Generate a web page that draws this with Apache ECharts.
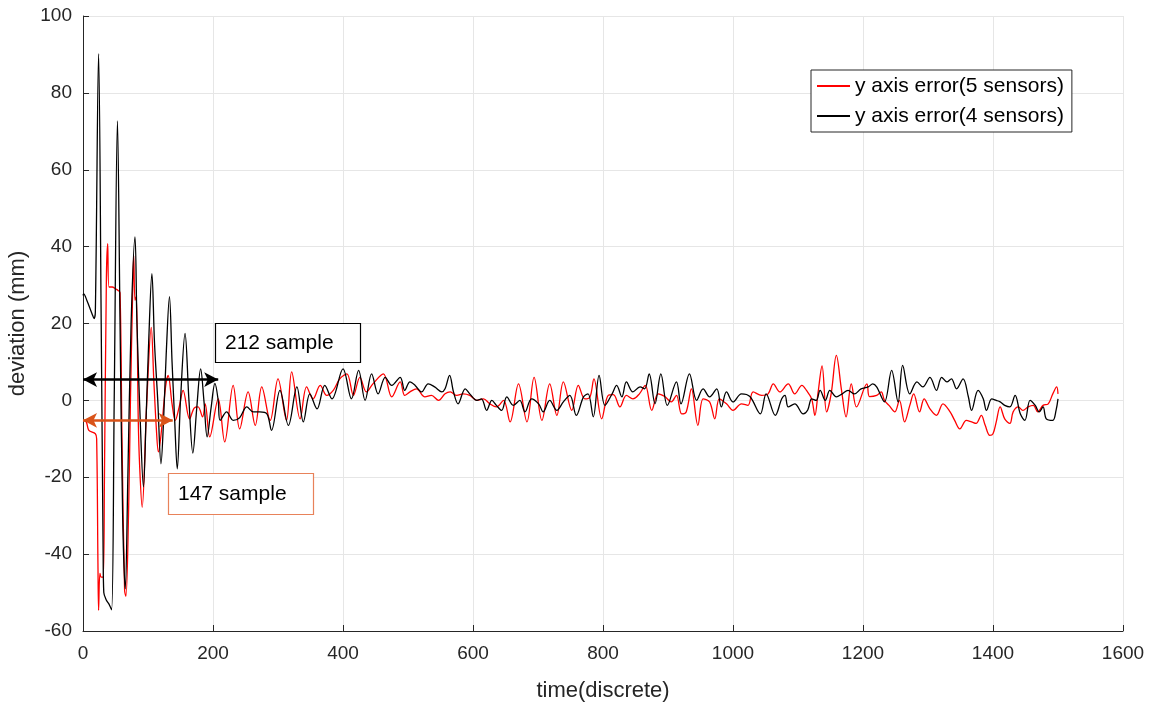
<!DOCTYPE html>
<html>
<head>
<meta charset="utf-8">
<title>y axis error</title>
<script src="https://cdn.jsdelivr.net/npm/echarts@6/dist/echarts.min.js"></script>
<style>
  html, body { margin: 0; padding: 0; background: #fff; }
  #chart { width: 1154px; height: 704px; }
</style>
</head>
<body>
<div id="chart"></div>
<script>
// values (sample index, deviation in mm)
const seriesNames = ['y axis error(5 sensors)', 'y axis error(4 sensors)'];

const redX = [0,5,9,19,21,23,24,26,28,31,
  33,36,38,40,45,50,54,57,60,64,
  66,70,73,76,78,80,82,85,87,91,
  98,105,109,113,116,120,127,131,137,142,
  148,154,164,171,177,184,188,195,208,218,
  231,241,254,265,275,288,300,313,321,334,
  344,354,365,375,385,395,406,416,426,436,
  446,462,475,488,495,503,513,526,536,547,
  557,565,575,585,595,606,616,626,636,647,
  657,670,683,694,706,718,729,739,752,762,
  772,780,786,798,808,816,826,836,846,856,
  865,875,885,895,905,913,921,928,936,946,
  954,964,972,979,990,1000,1013,1023,1031,1044,
  1054,1062,1072,1085,1095,1106,1113,1121,1126,1131,
  1137,1144,1151,1159,1167,1174,1182,1190,1206,1210,
  1221,1228,1233,1240,1249,1256,1264,1272,1278,1287,
  1294,1303,1313,1323,1334,1341,1349,1359,1367,1374,
  1382,1388,1395,1400,1405,1411,1418,1426,1431,1439,
  1446,1454,1462,1469,1477,1485,1492,1498,1500];
const redY = [-5.2,-5.6,-7.8,-8.7,-10,-42.5,-54.6,-45,-46,-46,
  -20,32,40.8,29.5,29.5,29,28.6,28,-10,-49.4,
  -51,-30,0,25,37.7,26,27,-5,-16.5,-27.8,
  -0.9,19,5,-7.8,-13.4,-9,3.5,6.5,-0.9,-5.2,
  -1.7,2.6,-4.8,-2,-1.7,-4.3,-0.9,-9.5,0.4,-10.8,
  3.9,-7.4,2.2,-6.5,3.5,-5.2,5.6,-5.2,7.4,-4.8,
  3.5,0.4,3.9,1.3,2.6,5.6,6.9,1.3,6,2.2,
  4.3,6.9,0.9,4.8,1.3,2.2,3,0.9,1.3,0,
  1.7,2.2,1.3,1.7,1.3,0,0.4,-0.9,-1.7,0,
  -5.6,4.3,-5.6,6,-5.2,4.3,-3.9,4.8,-2.6,3.9,
  0.4,0.9,5.6,-4.8,1.3,1.5,-1.7,1.3,0.4,1.7,
  3.9,-2.6,1.7,1,-0.4,1.3,-3.5,-3,3,-6.5,
  0.4,-0.4,-4.8,0.4,-0.9,-2.6,-0.9,-1.3,2.2,1.3,
  1.7,4.3,2.2,4.3,1.7,3.9,2.6,0.4,-3.9,2.2,
  9,-3,1.7,11.7,2.6,-4.3,4.3,-1.7,4.3,1,
  1.3,2.2,0,-1.3,-3,0,-5.6,-1.3,1.7,-3,
  0.4,-2.2,-3.9,-0.9,-3,-5.2,-7.4,-5.2,-5.6,-6,
  -3.9,-6.5,-9.1,-8.7,-5.6,-1.7,-4.8,-6,-3,-1.7,
  -2.6,-1.7,-1.3,-3,-1.3,-0.9,1.7,3.5,1.7];

const blackX = [0,1,6,14,17,19,24,28,31,32,
  36,40,44,48,53,57,61,65,69,74,
  80,83,88,93,97,101,106,110,115,120,
  124,128,133,137,141,145,150,157,163,169,
  175,181,186,191,197,203,208,211,221,231,
  241,252,262,272,283,290,303,316,329,339,
  349,360,372,383,400,413,424,434,444,454,
  465,475,488,495,503,511,521,531,541,552,
  557,564,570,577,588,595,606,613,621,629,
  636,644,652,662,672,680,690,701,708,718,
  729,739,749,759,770,777,785,794,803,814,
  821,829,836,846,857,864,871,880,889,899,
  913,920,933,944,954,964,975,982,990,1000,
  1013,1026,1042,1051,1065,1075,1080,1085,1095,1108,
  1115,1121,1128,1134,1142,1149,1159,1168,1177,1187,
  1197,1208,1215,1221,1233,1244,1254,1261,1272,1283,
  1292,1303,1313,1321,1329,1336,1344,1354,1362,1367,
  1377,1385,1390,1398,1405,1411,1418,1426,1434,1442,
  1449,1457,1465,1471,1477,1482,1492,1497,1500];
const blackY = [27.3,27.7,26,22.5,21.3,23,90.2,20,-40,-50,
  -52,-53,-54.5,0,72.7,20,-30,-49,-20,20,
  42.5,20,-5,-22.5,-5,15,33,15,0,-16.5,
  -5,12,27,10,-5,-17.8,0,17.4,0,-13.7,
  -2,8.2,0,-9.5,-2,4.4,0,-5.2,-3,-5.2,
  -4.5,-1.7,-3,-3,-3.5,-7.8,2.6,-6.5,3.5,-5.6,
  1.7,-2.2,3.9,0.4,8.2,0.4,7.8,0,6.9,1.7,
  6,3.9,6,2.6,4.8,3.9,2.2,4.3,3.5,2.2,
  3,6.5,2.2,-0.9,3,1.7,0,0.4,-2.6,0,
  -1.3,-2.6,0.9,-1.3,0,-3,0.4,-0.9,-3,0,
  -2.6,-0.4,1.3,-3.9,0.9,1.7,-4.3,6.5,-1.3,1.7,
  3.9,0.9,4.8,2.2,3.5,3,6.9,-0.9,6.9,-1.3,
  4.8,-0.9,6.9,0,3,0.9,3,-1.7,2.2,-0.4,
  1.7,1,-3.5,1.7,-3.9,0.4,1.3,-1.7,-0.9,-3.5,
  -2.5,0.4,0,2.6,0,2.6,0.9,1.7,2.6,1.7,
  3,3.5,4.3,3.5,-0.4,7.8,-0.4,9.1,1.7,4.8,
  3.5,6,2.6,6,4.8,5.6,3,5.6,1,-2.6,
  2.6,0.4,-2.6,0.4,0,-0.4,-1.3,-1.7,1.3,-3.5,
  -5.2,0,-1.3,-3,-1.7,-4.8,-5.2,-2.6,0.4];

// settling-time arrows: [start, end, level]
const arrow212 = [0, 208, 5.4];
const arrow147 = [0, 138, -5.2];

const font = 'Liberation Sans, Arial, Helvetica, sans-serif';
const axisColor = '#262626';
const gridColor = '#e6e6e6';

const zip = (xs, ys) => xs.map((x, i) => [x, ys[i]]);

const arrowLine = (a, color) => ({
  silent: true,
  symbol: ['arrow', 'arrow'],
  symbolSize: [11, 14],
  label: { show: false },
  lineStyle: { color: color, width: 2.5, type: 'solid' },
  emphasis: { disabled: true },
  data: [[{ coord: [a[0], a[2]] }, { coord: [a[1], a[2]] }]]
});

// text box for the annotations, drawn in pixels
const noteBox = (x, y, w, h, text, stroke) => ([
  { type: 'rect', z: 100, silent: true,
    shape: { x: x + 0.5, y: y + 0.5, width: w, height: h },
    style: { fill: '#fff', stroke: stroke, lineWidth: 1.2 } },
  { type: 'text', z: 101, silent: true, x: x + 10, y: y + h / 2 + 1,
    style: { text: text, font: '21px ' + font, fill: '#000', verticalAlign: 'middle' } }
]);

const chart = echarts.init(document.getElementById('chart'));

chart.setOption({
  animation: false,
  textStyle: { fontFamily: font },
  grid: { left: 83, right: 31, top: 16, bottom: 73, outerBoundsMode: 'none', containLabel: false },
  legend: {
    orient: 'vertical',
    left: 811,
    top: 70,
    padding: [5, 8, 5, 6],
    itemGap: 8,
    itemWidth: 33,
    itemHeight: 2,
    icon: 'rect',
    borderColor: axisColor,
    borderWidth: 1,
    backgroundColor: '#fff',
    textStyle: { fontSize: 21, color: '#000', fontFamily: font, lineHeight: 22 },
    data: seriesNames
  },
  xAxis: {
    type: 'value',
    min: 0,
    max: 1600,
    interval: 200,
    name: 'time(discrete)',
    nameLocation: 'middle',
    nameGap: 49,
    nameTextStyle: { fontSize: 22, color: axisColor, fontFamily: font },
    axisLine: { onZero: false, lineStyle: { color: axisColor, width: 1 } },
    axisTick: { inside: true, length: 6, lineStyle: { color: axisColor } },
    axisLabel: { fontSize: 19, color: axisColor, margin: 13, fontFamily: font, formatter: v => String(v) },
    splitLine: { lineStyle: { color: gridColor, width: 1 } }
  },
  yAxis: {
    type: 'value',
    min: -60,
    max: 100,
    interval: 20,
    name: 'deviation (mm)',
    nameLocation: 'middle',
    nameGap: 49,
    nameTextStyle: { fontSize: 22, color: axisColor, fontFamily: font },
    axisLine: { show: true, onZero: false, lineStyle: { color: axisColor, width: 1 } },
    axisTick: { show: true, inside: true, length: 6, lineStyle: { color: axisColor } },
    axisLabel: { fontSize: 19, color: axisColor, margin: 11, fontFamily: font, formatter: v => String(v) },
    splitLine: { lineStyle: { color: gridColor, width: 1 } }
  },
  series: [
    {
      name: seriesNames[0],
      type: 'line',
      symbol: 'none',
      smooth: 0.35,
      color: '#ff0000',
      lineStyle: { width: 1.3 },
      data: zip(redX, redY)
    },
    {
      name: seriesNames[1],
      type: 'line',
      symbol: 'none',
      smooth: 0.35,
      color: '#000000',
      lineStyle: { width: 1.3 },
      data: zip(blackX, blackY),
      markLine: arrowLine(arrow212, '#000000')
    },
    {
      // carries only the orange arrow
      type: 'line',
      data: [],
      markLine: arrowLine(arrow147, '#d95319')
    }
  ],
  graphic: [
    ...noteBox(215, 323, 145, 39, '212 sample', '#000'),
    ...noteBox(168, 473, 145, 41, '147 sample', '#e8825a')
  ]
});
</script>
</body>
</html>
